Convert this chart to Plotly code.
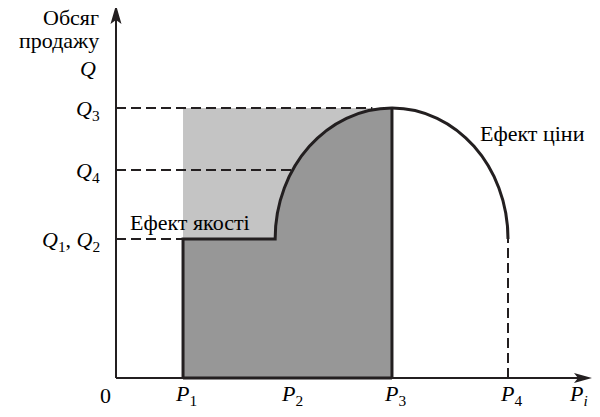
import numpy as np
import plotly.graph_objects as go

# ---- data (schematic values) ----
p_names = ["P1", "P2", "P3", "P4"]
p_values = [1.71, 4.41, 7.04, 10.0]          # price points on the x axis
q_names = ["Q3", "Q4", "Q1,Q2"]
q_values = [10.0, 7.70, 5.15]                # sales levels on the y axis
kink_x = 4.06                                # where the quality-effect curve starts rising
p_labels = ["<i>P</i><sub>1</sub>", "<i>P</i><sub>2</sub>", "<i>P</i><sub>3</sub>", "<i>P</i><sub>4</sub>"]
q_labels = ["<i>Q</i><sub>3</sub>", "<i>Q</i><sub>4</sub>", "<i>Q</i><sub>1</sub>, <i>Q</i><sub>2</sub>"]

P1, P2, P3, P4 = p_values
Q3, Q4, Q1 = q_values

# ---- layout constants (page has an 8px body margin) ----
OFF = 8
W, H = 600 - OFF, 417 - OFF
X0PX, Y0PX = 116 - OFF, 378 - OFF
SX, SY = 39.2, 27.0
xr = [-X0PX / SX, (W - X0PX) / SX]
yr = [(Y0PX - H) / SY, Y0PX / SY]
X_END = (592 - OFF - X0PX) / SX
Y_END = (Y0PX - (5 - OFF)) / SY

INK = "#231f20"
LIGHT = "#c4c4c4"
DARK = "#979797"
FONT = "Liberation Serif"
FS = 22
K = 0.5523

def px2paper(px):
    return (px - OFF) / W

def py2paper(py):
    return 1 - (py - OFF) / H

shapes = []
shapes.append(dict(type="rect", x0=P1, x1=P3, y0=Q1, y1=Q3, fillcolor=LIGHT,
                   line=dict(width=0), layer="below"))
c1 = f"{kink_x},{Q1 + K*(Q3-Q1)} {P3 - K*(P3-kink_x)},{Q3} {P3},{Q3}"
dark_path = f"M {P1},0 L {P1},{Q1} L {kink_x},{Q1} C {c1} L {P3},0 Z"
shapes.append(dict(type="path", path=dark_path, fillcolor=DARK, line=dict(width=0), layer="below"))

q4_x = P3 - (P3 - kink_x) * np.sqrt(1 - ((Q4 - Q1) / (Q3 - Q1)) ** 2)
dash = dict(color=INK, width=2, dash="10px,5px")
shapes.append(dict(type="line", x0=0, x1=P3 - 0.5, y0=Q3, y1=Q3, line=dash))
shapes.append(dict(type="line", x0=0, x1=q4_x, y0=Q4, y1=Q4, line=dash))
shapes.append(dict(type="line", x0=0, x1=P1, y0=Q1, y1=Q1, line=dash))
shapes.append(dict(type="line", x0=P4, x1=P4, y0=0, y1=Q1, line=dash))

solid = dict(color=INK, width=3)
shapes.append(dict(type="path", path=f"M {P1},0 L {P1},{Q1} L {kink_x},{Q1} C {c1}", line=solid))
shapes.append(dict(type="line", x0=P3, x1=P3, y0=0, y1=Q3, line=solid))
shapes.append(dict(type="line", x0=P1, x1=P3, y0=0, y1=0, line=solid))
c2 = f"{P3 + K*(P4-P3)},{Q3} {P4},{Q1 + K*(Q3-Q1)} {P4},{Q1}"
shapes.append(dict(type="path", path=f"M {P3},{Q3} C {c2}", line=solid))

axis = dict(color=INK, width=2)
shapes.append(dict(type="line", x0=0, x1=0, y0=0, y1=Y_END - 0.5, line=axis))
shapes.append(dict(type="line", x0=0, x1=X_END - 0.3, y0=0, y1=0, line=axis))
shapes.append(dict(type="path", xsizemode="pixel", ysizemode="pixel", xanchor=0, yanchor=Y_END,
                   path="M 0,0 L -5.5,-19 L 0,-15 L 5.5,-19 Z", fillcolor=INK, line=dict(width=0)))
shapes.append(dict(type="path", xsizemode="pixel", ysizemode="pixel", xanchor=X_END, yanchor=0,
                   path="M 0,0 L -18,5 L -14,0 L -18,-5 Z", fillcolor=INK, line=dict(width=0)))

ann = []
f = dict(family=FONT, size=FS)
def txt(text, px, py, anchor="center"):
    ann.append(dict(text=text, xref="paper", yref="paper", x=px2paper(px), y=py2paper(py),
                    xanchor=anchor, yanchor="middle", showarrow=False, font=f))

txt("Обсяг", 101, 17, "right")
txt("продажу", 101, 41, "right")
txt("<i>Q</i>", 98, 68, "right")
for lab, q in zip(q_labels, q_values):
    ann.append(dict(text=lab, xref="x", yref="y", x=0, y=q, xshift=-14, yshift=-2,
                    xanchor="right", yanchor="middle", showarrow=False, font=f))
for lab, p in zip(p_labels, p_values):
    ann.append(dict(text=lab, xref="x", yref="paper", x=p, y=py2paper(395), xshift=3,
                    xanchor="center", yanchor="middle", showarrow=False, font=f))
txt("<i>P</i><sub><i>i</i></sub>", 578, 395)
txt("0", 105, 395)
txt("Ефект якості", 128, 222, "left")
txt("Ефект ціни", 478, 133, "left")

fig = go.Figure()
fig.add_trace(go.Scatter(x=[xr[0]], y=[yr[0]], mode="markers", marker=dict(opacity=0), hoverinfo="skip"))
fig.update_layout(width=W, height=H, margin=dict(l=0, r=0, t=0, b=0),
                  paper_bgcolor="white", plot_bgcolor="white", showlegend=False,
                  font=dict(family=FONT, size=FS, color="#000000"),
                  xaxis=dict(range=xr, visible=False, fixedrange=True),
                  yaxis=dict(range=yr, visible=False, fixedrange=True),
                  shapes=shapes, annotations=ann)
fig.write_html("out.html")
